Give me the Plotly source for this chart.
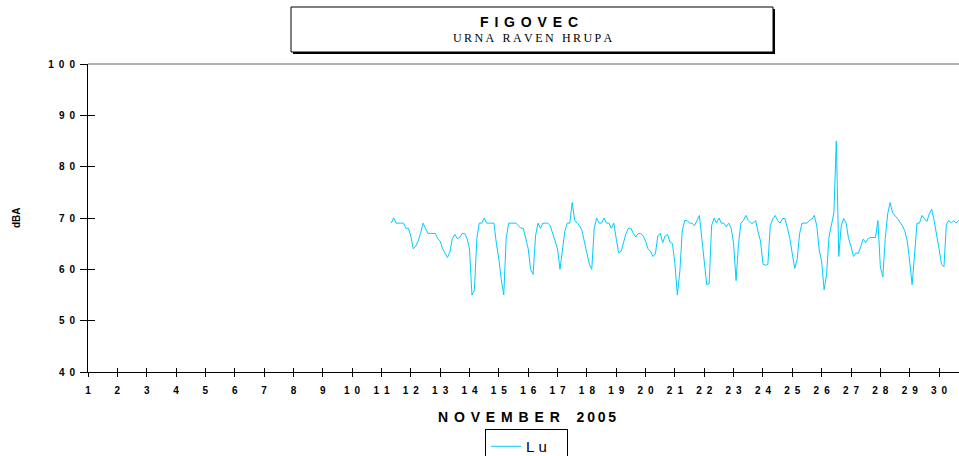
import plotly.graph_objects as go

# ---- data (Lu, dBA), 2-hour readings, first reading 11 Nov 08:00 ----
start_day = 11
start_hour = 8
step_hours = 2

lu_nov11 = [69, 70, 69, 69, 69, 69, 68, 68]
lu_nov12 = [66.5, 64, 64.5, 65.5, 67, 69, 68, 67, 67, 67, 67, 66]
lu_nov13 = [65.5, 64, 63, 62.3, 63.4, 66, 66.8, 66, 66.2, 67, 67, 66]
lu_nov14 = [64, 55, 56, 66, 69, 69, 70, 69, 69, 69, 69, 65]
lu_nov15 = [62, 58, 55, 66, 69, 69, 69, 69, 68.5, 68, 68, 66]
lu_nov16 = [64, 60, 59, 66.5, 69, 68, 69, 69, 69, 68.5, 67, 65.8]
lu_nov17 = [64, 60, 64, 67.5, 69, 69, 73, 69.5, 69, 68.5, 67.5, 65.5]
lu_nov18 = [63, 61, 60, 68, 70, 69, 69, 70, 69, 69, 68, 69]
lu_nov19 = [66, 63.2, 63.5, 65.5, 67, 68, 68, 67, 66.3, 67, 67, 66.5]
lu_nov20 = [65.5, 64, 63.5, 62.5, 63, 66.5, 67, 65.2, 66.5, 66.8, 65.3, 65]
lu_nov21 = [61, 55, 59.5, 67.5, 69.5, 69.5, 69, 69, 68.5, 69.5, 70.5, 66]
lu_nov22 = [61, 57, 57.2, 68.5, 70, 69, 70, 69, 69, 68.3, 69, 68]
lu_nov23 = [65, 57.8, 65, 69, 69.5, 70.5, 69.5, 69, 69, 69.5, 67.3, 65.5]
lu_nov24 = [61, 60.8, 61, 68.5, 69.8, 70.5, 69.5, 69, 69.9, 69.9, 68, 66]
lu_nov25 = [63, 60.2, 62, 67, 69, 69, 69, 69.5, 69.8, 70.5, 68.5, 63.8]
lu_nov26 = [61.5, 56, 59, 66.3, 68.5, 71, 85, 62.5, 68.5, 69.9, 69, 66]
lu_nov27 = [64.5, 62.5, 63.2, 63.1, 64.5, 65.9, 65.2, 66, 66.2, 66.2, 66.2, 69.5]
lu_nov28 = [60.5, 58.5, 66, 70.8, 73, 71, 70.5, 69.9, 69.2, 68.5, 67.5, 65.5]
lu_nov29 = [61.5, 57, 63, 69, 69, 70.5, 69.9, 69.3, 70.8, 71.7, 69.5, 67]
lu_nov30 = [64, 61, 60.5, 68.8, 69.5, 69, 69.5, 69, 69.5, 69.2, 69.5, 69]

day_ticks = list(range(1, 31))
dba_ticks = [40, 50, 60, 70, 80, 90, 100]

title_text = "FIGOVEC"
subtitle_text = "URNA RAVEN HRUPA"
x_title_words = ["NOVEMBER", "2005"]
y_title = "dBA"
series_name = "L u"

# ---- build series ----
lu = (lu_nov11 + lu_nov12 + lu_nov13 + lu_nov14 + lu_nov15 + lu_nov16 + lu_nov17
      + lu_nov18 + lu_nov19 + lu_nov20 + lu_nov21 + lu_nov22 + lu_nov23 + lu_nov24
      + lu_nov25 + lu_nov26 + lu_nov27 + lu_nov28 + lu_nov29 + lu_nov30)
x = [start_day + (start_hour + i * step_hours) / 24.0 for i in range(len(lu))]

EN = "\u2002"
THIN = "\u2009"

def spaced(s, sep):
    return sep.join(list(s))

x_ticktext = [spaced(str(d), EN) for d in day_ticks]
y_ticktext = [spaced(str(v), EN) for v in dba_ticks]

title_txt = spaced(title_text, "\u2004\u200a")
sub_txt = (EN + THIN).join(spaced(w, THIN) for w in subtitle_text.split(" "))
x_title_txt = (spaced(x_title_words[0], "\u2004\u200a") + EN + EN + THIN
               + spaced(x_title_words[1], THIN))
legend_name = series_name.replace(" ", "\u00a0") + "\u2002\u2002"

X_RANGE = [1, 30.68]
Y_RANGE = [40, 100]

W, H = 959, 456
ML, MR, MT, MB = 88, 0, 64, 84
PW = W - ML - MR
PH = H - MT - MB

def px(xp):
    return (xp - ML) / PW

def py(yp):
    return (H - MB - yp) / PH

BOLD = dict(family="Liberation Sans, Arial, sans-serif", size=10, color="black", weight="bold")

fig = go.Figure()
fig.add_trace(go.Scatter(x=x, y=lu, mode="lines", name=legend_name,
                         line=dict(color="#00CCFF", width=1)))
fig.add_trace(go.Scatter(x=[], y=[], xaxis="x2", yaxis="y2", showlegend=False,
                         hoverinfo="skip"))

fig.update_layout(
    width=W, height=H,
    margin=dict(l=ML, r=MR, t=MT, b=MB, pad=0, autoexpand=False),
    paper_bgcolor="white", plot_bgcolor="white",
    showlegend=True,
    legend=dict(x=px(485), y=py(429), xanchor="left", yanchor="top",
                bordercolor="black", borderwidth=1, bgcolor="white",
                font=dict(family="Liberation Sans, Arial, sans-serif", size=15, color="black")),
    xaxis=dict(range=X_RANGE, tickvals=day_ticks, ticktext=x_ticktext,
               ticks="outside", ticklen=4, tickcolor="black", tickwidth=1,
               showline=True, linecolor="black", linewidth=1,
               showgrid=False, zeroline=False, tickfont=BOLD, ticklabelstandoff=5),
    xaxis2=dict(range=X_RANGE, tickvals=day_ticks, overlaying="x", anchor="y",
                ticks="inside", ticklen=4, tickcolor="black", tickwidth=1,
                showticklabels=False, showline=False, showgrid=False, zeroline=False),
    yaxis=dict(range=Y_RANGE, tickvals=dba_ticks, ticktext=y_ticktext,
               ticks="outside", ticklen=7, tickcolor="black", tickwidth=1,
               showline=True, linecolor="black", linewidth=1,
               showgrid=False, zeroline=False, tickfont=BOLD, ticklabelstandoff=3),
    yaxis2=dict(range=Y_RANGE, tickvals=dba_ticks, overlaying="y", anchor="x",
                side="left", ticks="inside", ticklen=7, tickcolor="black", tickwidth=1,
                showticklabels=False, showline=False, showgrid=False, zeroline=False),
)

# frame and title box
fig.add_shape(type="line", xref="paper", yref="paper", x0=0, x1=1, y0=1, y1=1,
              line=dict(color="#666666", width=1))
fig.add_shape(type="rect", xref="paper", yref="paper",
              x0=px(293), x1=px(775), y0=py(54), y1=py(9),
              fillcolor="black", line=dict(width=0))
fig.add_shape(type="rect", xref="paper", yref="paper",
              x0=px(291), x1=px(773), y0=py(52), y1=py(7),
              fillcolor="white", line=dict(color="black", width=1))

fig.add_annotation(xref="paper", yref="paper", x=px(528.5), y=py(21.5),
                   text=title_txt, showarrow=False, xanchor="center", yanchor="middle",
                   font=dict(family="Liberation Sans, Arial, sans-serif", size=14,
                             color="black", weight="bold"))
fig.add_annotation(xref="paper", yref="paper", x=px(533), y=py(38),
                   text=sub_txt, showarrow=False, xanchor="center", yanchor="middle",
                   font=dict(family="Liberation Serif, Times New Roman, serif", size=12,
                             color="black"))
fig.add_annotation(xref="paper", yref="paper", x=px(527), y=py(417),
                   text=x_title_txt, showarrow=False, xanchor="center", yanchor="middle",
                   font=dict(family="Liberation Sans, Arial, sans-serif", size=14,
                             color="black", weight="bold"))
fig.add_annotation(xref="paper", yref="paper", x=px(16), y=py(218),
                   text=y_title, showarrow=False, textangle=-90,
                   xanchor="center", yanchor="middle",
                   font=dict(family="Liberation Sans, Arial, sans-serif", size=10,
                             color="black", weight="bold"))

fig.write_html(
    "out.html",
    config={"displayModeBar": False},
    post_script="document.body.style.margin='0';document.body.style.overflow='hidden';",
)
